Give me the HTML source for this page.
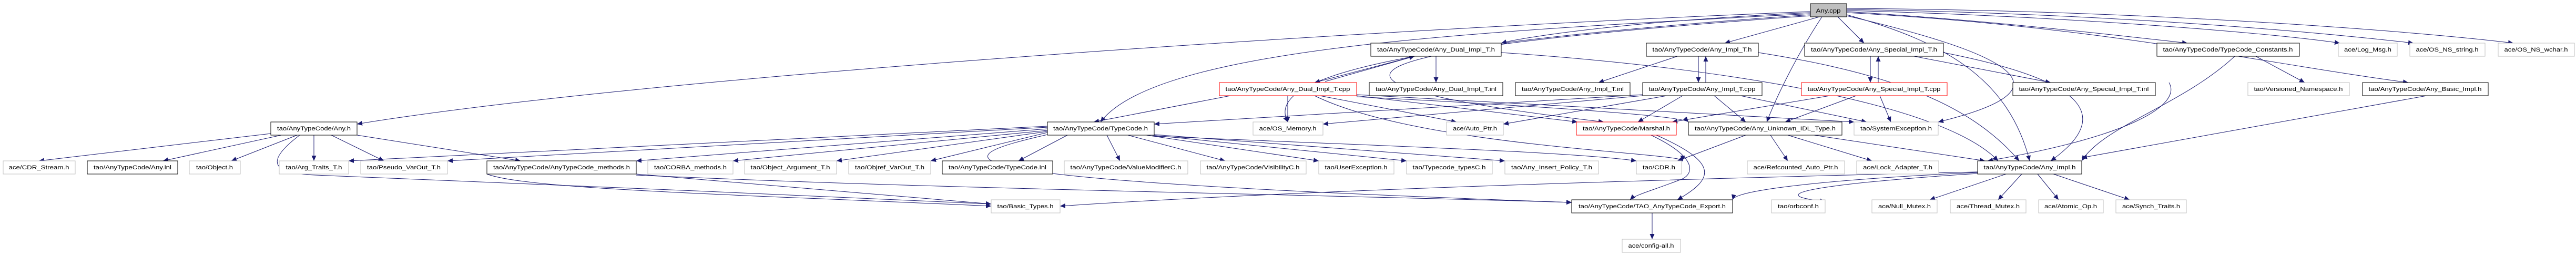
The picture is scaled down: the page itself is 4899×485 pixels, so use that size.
<!DOCTYPE html>
<html><head><meta charset="utf-8"><style>
html,body{margin:0;padding:0;background:#fff;}
svg{display:block}
text{font-family:"Liberation Sans",sans-serif;font-size:11px;fill:#000}
</style></head><body>
<svg width="4899" height="485" viewBox="0 0 4899 485" xmlns="http://www.w3.org/2000/svg">
<defs>
<marker id="a" markerUnits="userSpaceOnUse" markerWidth="11" markerHeight="9" refX="10" refY="4.5" orient="auto">
<path d="M0,0 L10,4.5 L0,9 Z" fill="#191970"/>
</marker>
</defs>
<g stroke="#191970" stroke-width="1" fill="none" marker-end="url(#a)">
<!-- from Any.cpp -->
<path d="M3443,22 C2500,60 1200,150 679,236"/>
<path d="M3443,26 C2800,60 2200,90 2093,232"/>
<path d="M3443,24 C3100,40 2900,70 2855,82"/>
<path d="M3460,32 L3280,82"/>
<path d="M3495,32 L3545,82"/>
<path d="M3465,32 C3420,100 3380,180 3360,232"/>
<path d="M3512,22 C3800,40 4050,70 4160,82"/>
<path d="M3512,20 C3900,30 4300,60 4450,82"/>
<path d="M3512,18 C4000,25 4400,60 4590,82"/>
<path d="M3512,16 C4100,20 4600,60 4780,82"/>
<path d="M3512,24 C4000,50 4300,120 4580,157"/>
<path d="M3512,28 C3700,80 3820,150 3860,306"/>
<path d="M3443,28 C2700,80 2400,140 2449,232"/>
<path d="M3512,30 C3900,120 3900,180 3686,232"/>
<path d="M3443,30 C2600,90 2350,150 3050,232"/>
<!-- Any.h -->
<path d="M515,254 L74,306"/>
<path d="M535,257 L310,306"/>
<path d="M565,257 L440,306"/>
<path d="M597,257 L597,306"/>
<path d="M630,257 L730,306"/>
<path d="M679,257 L990,306"/>
<path d="M570,257 C500,310 520,330 600,333 C900,345 1500,370 1885,388"/>
<!-- TypeCode.h -->
<path d="M1992,245 L1210,306"/>
<path d="M1992,248 L1394,306"/>
<path d="M1992,250 L1591,306"/>
<path d="M1992,252 L1770,306"/>
<path d="M2030,257 L1937,306"/>
<path d="M2105,257 L2130,306"/>
<path d="M2145,257 L2330,306"/>
<path d="M2180,257 L2508,306"/>
<path d="M2190,257 L2675,306"/>
<path d="M2195,256 L2862,306"/>
<path d="M1992,242 L851,306"/>
<path d="M1992,240 L663,306"/>
<path d="M2195,259 C2700,280 3000,290 3112,306"/>
<path d="M1992,256 C1800,300 1700,340 2989,385"/>
<!-- AnyTypeCode_methods -->
<path d="M1210,331 L1885,388"/>
<path d="M1210,333 C1800,360 2500,370 2989,385"/>
<path d="M926,331 C1000,360 1400,370 1885,392"/>
<!-- Dual -->
<path d="M2690,107 L2500,157"/>
<path d="M2520,155 L2690,107"/>
<path d="M2731,107 L2731,157"/>
<path d="M2855,100 C3300,130 3700,200 3800,306"/>
<path d="M2340,182 L2080,232"/>
<path d="M2449,182 L2449,232"/>
<path d="M2510,182 L2770,232"/>
<path d="M2580,182 L3000,232"/>
<path d="M2580,180 L3526,232"/>
<path d="M2500,182 C2700,280 3200,290 3200,306"/>
<path d="M2580,184 C2900,200 3200,220 3211,232"/>
<!-- Impl_T -->
<path d="M3190,107 L3040,157"/>
<path d="M3230,107 L3230,157"/>
<path d="M3244,157 L3244,107"/>
<path d="M3344,100 C3600,140 3750,200 3840,306"/>
<path d="M3200,182 L3115,232"/>
<path d="M3260,182 L3320,232"/>
<path d="M3310,182 L3550,232"/>
<path d="M3124,182 L2516,236"/>
<path d="M3124,180 C2800,200 2300,230 2195,236"/>
<path d="M3170,182 L2859,236"/>
<!-- Special -->
<path d="M3557,107 L3557,157"/>
<path d="M3572,157 L3572,107"/>
<path d="M3640,107 L3900,157"/>
<path d="M3696,100 C3900,140 4050,200 3900,306"/>
<path d="M3480,182 L3180,232"/>
<path d="M3530,182 L3395,232"/>
<path d="M3575,182 L3596,232"/>
<!-- Unknown IDL -->
<path d="M3320,257 L3190,306"/>
<path d="M3367,257 L3400,306"/>
<path d="M3400,257 L3560,306"/>
<path d="M3450,257 L3775,306"/>
<!-- Marshal -->
<path d="M3140,257 C3230,300 3220,330 3200,340 C3150,360 3110,370 3100,380"/>
<path d="M3150,257 C3270,310 3260,340 3190,380"/>
<!-- Any_Impl.h -->
<path d="M3761,328 C3500,340 3300,360 3295,380"/>
<path d="M3761,330 C3600,340 3300,365 3471,383"/>
<path d="M3815,331 L3670,380"/>
<path d="M3845,331 L3800,380"/>
<path d="M3875,331 L3915,380"/>
<path d="M3905,331 L4050,380"/>
<path d="M3761,327 C3200,340 2500,360 2016,392"/>
<!-- misc -->
<path d="M3142,405 L3142,455"/>
<path d="M4290,107 L4383,157"/>
<path d="M4250,107 C4150,200 4000,240 3959,306"/>
<path d="M4615,182 L3959,300"/>
<path d="M4125,157 C4150,200 4050,260 3780,306"/>
</g>
<g stroke-width="1">
<!-- gray nodes -->
<g fill="#fff" stroke="#bfbfbf">
<rect x="6" y="306" width="137" height="25"/>
<rect x="360" y="306" width="97" height="25"/>
<rect x="531" y="306" width="132" height="25"/>
<rect x="686" y="306" width="165" height="25"/>
<rect x="1232" y="306" width="162" height="25"/>
<rect x="1416" y="306" width="175" height="25"/>
<rect x="1614" y="306" width="156" height="25"/>
<rect x="1885" y="380" width="131" height="25"/>
<rect x="2024" y="306" width="235" height="25"/>
<rect x="2283" y="306" width="201" height="25"/>
<rect x="2508" y="306" width="143" height="25"/>
<rect x="2675" y="306" width="163" height="25"/>
<rect x="2862" y="306" width="178" height="25"/>
<rect x="3085" y="455" width="111" height="25"/>
<rect x="3112" y="306" width="86" height="25"/>
<rect x="3323" y="306" width="185" height="25"/>
<rect x="3531" y="306" width="156" height="25"/>
<rect x="3369" y="380" width="102" height="25"/>
<rect x="3560" y="380" width="124" height="25"/>
<rect x="3709" y="380" width="144" height="25"/>
<rect x="3877" y="380" width="123" height="25"/>
<rect x="4024" y="380" width="134" height="25"/>
<rect x="2383" y="232" width="133" height="25"/>
<rect x="2751" y="232" width="108" height="25"/>
<rect x="3526" y="232" width="160" height="25"/>
<rect x="4447" y="82" width="112" height="25"/>
<rect x="4583" y="82" width="143" height="25"/>
<rect x="4751" y="82" width="145" height="25"/>
<rect x="4275" y="157" width="193" height="25"/>
</g>
<g fill="#fff" stroke="#000">
<rect x="515" y="232" width="164" height="25"/>
<rect x="166" y="306" width="172" height="25"/>
<rect x="926" y="306" width="284" height="25"/>
<rect x="1792" y="306" width="210" height="25"/>
<rect x="1992" y="232" width="203" height="25"/>
<rect x="2989" y="380" width="306" height="25"/>
<rect x="3761" y="306" width="198" height="25"/>
<rect x="2607" y="82" width="248" height="25"/>
<rect x="2604" y="157" width="254" height="25"/>
<rect x="2882" y="157" width="218" height="25"/>
<rect x="3131" y="82" width="213" height="25"/>
<rect x="3432" y="82" width="264" height="25"/>
<rect x="3124" y="157" width="227" height="25"/>
<rect x="3828" y="157" width="271" height="25"/>
<rect x="3211" y="232" width="292" height="25"/>
<rect x="4102" y="82" width="271" height="25"/>
<rect x="4493" y="157" width="239" height="25"/>
</g>
<g fill="#fff" stroke="#ff0000">
<rect x="2319" y="157" width="261" height="25"/>
<rect x="2998" y="232" width="190" height="25"/>
<rect x="3426" y="157" width="277" height="25"/>
</g>
<rect x="3443" y="7" width="69" height="25" fill="#bfbfbf" stroke="#000"/>
</g>
<g text-anchor="middle" lengthAdjust="spacingAndGlyphs">
<text x="3477" y="24" textLength="47" lengthAdjust="spacingAndGlyphs">Any.cpp</text>
<text x="597" y="248" textLength="140" lengthAdjust="spacingAndGlyphs">tao/AnyTypeCode/Any.h</text>
<text x="74" y="322" textLength="115" lengthAdjust="spacingAndGlyphs">ace/CDR_Stream.h</text>
<text x="252" y="322" textLength="148" lengthAdjust="spacingAndGlyphs">tao/AnyTypeCode/Any.inl</text>
<text x="408" y="322" textLength="70" lengthAdjust="spacingAndGlyphs">tao/Object.h</text>
<text x="597" y="322" textLength="107" lengthAdjust="spacingAndGlyphs">tao/Arg_Traits_T.h</text>
<text x="768" y="322" textLength="140" lengthAdjust="spacingAndGlyphs">tao/Pseudo_VarOut_T.h</text>
<text x="1068" y="322" textLength="260" lengthAdjust="spacingAndGlyphs">tao/AnyTypeCode/AnyTypeCode_methods.h</text>
<text x="1313" y="322" textLength="138" lengthAdjust="spacingAndGlyphs">tao/CORBA_methods.h</text>
<text x="1503" y="322" textLength="151" lengthAdjust="spacingAndGlyphs">tao/Object_Argument_T.h</text>
<text x="1692" y="322" textLength="132" lengthAdjust="spacingAndGlyphs">tao/Objref_VarOut_T.h</text>
<text x="1897" y="322" textLength="186" lengthAdjust="spacingAndGlyphs">tao/AnyTypeCode/TypeCode.inl</text>
<text x="1950" y="396" textLength="107" lengthAdjust="spacingAndGlyphs">tao/Basic_Types.h</text>
<text x="2093" y="248" textLength="180" lengthAdjust="spacingAndGlyphs">tao/AnyTypeCode/TypeCode.h</text>
<text x="2141" y="322" textLength="211" lengthAdjust="spacingAndGlyphs">tao/AnyTypeCode/ValueModifierC.h</text>
<text x="2383" y="322" textLength="177" lengthAdjust="spacingAndGlyphs">tao/AnyTypeCode/VisibilityC.h</text>
<text x="2579" y="322" textLength="119" lengthAdjust="spacingAndGlyphs">tao/UserException.h</text>
<text x="2756" y="322" textLength="139" lengthAdjust="spacingAndGlyphs">tao/Typecode_typesC.h</text>
<text x="2951" y="322" textLength="154" lengthAdjust="spacingAndGlyphs">tao/Any_Insert_Policy_T.h</text>
<text x="3142" y="396" textLength="280" lengthAdjust="spacingAndGlyphs">tao/AnyTypeCode/TAO_AnyTypeCode_Export.h</text>
<text x="3140" y="471" textLength="87" lengthAdjust="spacingAndGlyphs">ace/config-all.h</text>
<text x="3155" y="322" textLength="62" lengthAdjust="spacingAndGlyphs">tao/CDR.h</text>
<text x="3415" y="322" textLength="161" lengthAdjust="spacingAndGlyphs">ace/Refcounted_Auto_Ptr.h</text>
<text x="3609" y="322" textLength="132" lengthAdjust="spacingAndGlyphs">ace/Lock_Adapter_T.h</text>
<text x="3860" y="322" textLength="175" lengthAdjust="spacingAndGlyphs">tao/AnyTypeCode/Any_Impl.h</text>
<text x="3420" y="396" textLength="78" lengthAdjust="spacingAndGlyphs">tao/orbconf.h</text>
<text x="3622" y="396" textLength="100" lengthAdjust="spacingAndGlyphs">ace/Null_Mutex.h</text>
<text x="3781" y="396" textLength="120" lengthAdjust="spacingAndGlyphs">ace/Thread_Mutex.h</text>
<text x="3938" y="396" textLength="100" lengthAdjust="spacingAndGlyphs">ace/Atomic_Op.h</text>
<text x="4091" y="396" textLength="110" lengthAdjust="spacingAndGlyphs">ace/Synch_Traits.h</text>
<text x="2731" y="98" textLength="224" lengthAdjust="spacingAndGlyphs">tao/AnyTypeCode/Any_Dual_Impl_T.h</text>
<text x="2449" y="173" textLength="237" lengthAdjust="spacingAndGlyphs">tao/AnyTypeCode/Any_Dual_Impl_T.cpp</text>
<text x="2731" y="173" textLength="230" lengthAdjust="spacingAndGlyphs">tao/AnyTypeCode/Any_Dual_Impl_T.inl</text>
<text x="2991" y="173" textLength="194" lengthAdjust="spacingAndGlyphs">tao/AnyTypeCode/Any_Impl_T.inl</text>
<text x="2449" y="248" textLength="109" lengthAdjust="spacingAndGlyphs">ace/OS_Memory.h</text>
<text x="2805" y="248" textLength="84" lengthAdjust="spacingAndGlyphs">ace/Auto_Ptr.h</text>
<text x="3093" y="248" textLength="166" lengthAdjust="spacingAndGlyphs">tao/AnyTypeCode/Marshal.h</text>
<text x="3237" y="98" textLength="189" lengthAdjust="spacingAndGlyphs">tao/AnyTypeCode/Any_Impl_T.h</text>
<text x="3564" y="98" textLength="240" lengthAdjust="spacingAndGlyphs">tao/AnyTypeCode/Any_Special_Impl_T.h</text>
<text x="3237" y="173" textLength="203" lengthAdjust="spacingAndGlyphs">tao/AnyTypeCode/Any_Impl_T.cpp</text>
<text x="3564" y="173" textLength="253" lengthAdjust="spacingAndGlyphs">tao/AnyTypeCode/Any_Special_Impl_T.cpp</text>
<text x="3963" y="173" textLength="247" lengthAdjust="spacingAndGlyphs">tao/AnyTypeCode/Any_Special_Impl_T.inl</text>
<text x="3357" y="248" textLength="268" lengthAdjust="spacingAndGlyphs">tao/AnyTypeCode/Any_Unknown_IDL_Type.h</text>
<text x="3606" y="248" textLength="136" lengthAdjust="spacingAndGlyphs">tao/SystemException.h</text>
<text x="4237" y="98" textLength="247" lengthAdjust="spacingAndGlyphs">tao/AnyTypeCode/TypeCode_Constants.h</text>
<text x="4503" y="98" textLength="90" lengthAdjust="spacingAndGlyphs">ace/Log_Msg.h</text>
<text x="4654" y="98" textLength="119" lengthAdjust="spacingAndGlyphs">ace/OS_NS_string.h</text>
<text x="4823" y="98" textLength="121" lengthAdjust="spacingAndGlyphs">ace/OS_NS_wchar.h</text>
<text x="4371" y="173" textLength="169" lengthAdjust="spacingAndGlyphs">tao/Versioned_Namespace.h</text>
<text x="4612" y="173" textLength="215" lengthAdjust="spacingAndGlyphs">tao/AnyTypeCode/Any_Basic_Impl.h</text>
</g>
</svg>
</body></html>
